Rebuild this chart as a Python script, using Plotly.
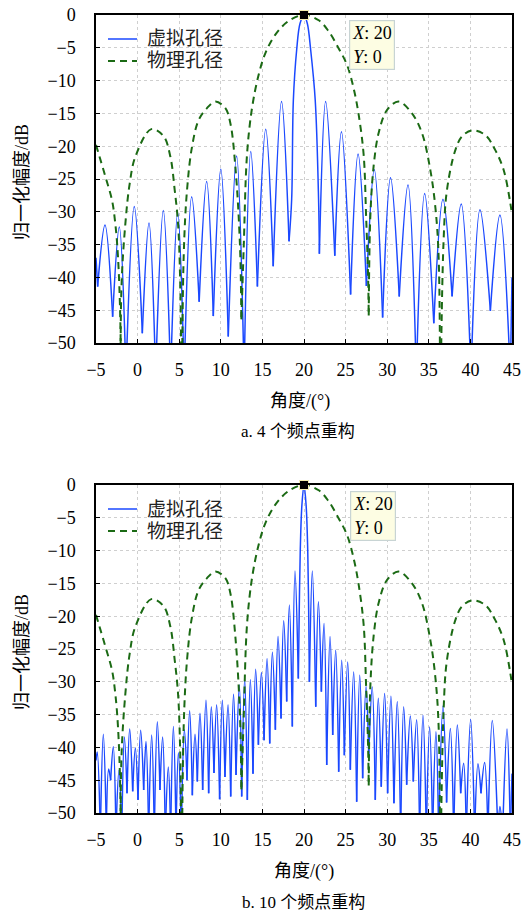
import plotly.graph_objects as go

# ---------------- data ----------------
# physical aperture (green dashed), same in both panels: angle (deg), level (dB)
phys_x = [-5, -3.88, -3.08, -2.68, -2.36, -2.07, -2.0,
          -1.95, -1.47, -0.95, -0.27, 1.65, 3.13, 3.94, 4.46, 4.86, 5.14, 5.3,
          5.54, 5.94, 6.54, 7.34, 8.34, 9.34, 10.55, 11.15, 11.75, 12.3, 12.47,
          12.75, 13.15, 13.75, 14.55, 15.36, 16.56, 18.16, 20, 21.77, 22.97, 24.17,
          25.17, 25.97, 26.57, 27.17, 27.46, 27.7, 27.78,
          27.98, 28.38, 28.97, 29.97, 31.37, 32.98, 34.18, 35.18, 35.78, 36.18, 36.35,
          36.78, 37.18, 38.19, 38.99, 40.19, 41.79, 42.99, 43.99, 44.8, 45]
phys_y = [-19.8, -24.6, -28.2, -31.8, -36.8, -47, -65,
          -41.9, -31.8, -25.7, -21.6, -17.4, -18.5, -21.6, -26.7, -31.8, -41.9, -65,
          -36.8, -26.7, -20.1, -16.0, -14.2, -13.2, -14.2, -16.5, -23.1, -35, -46.4,
          -35.6, -21.3, -14.2, -9.1, -5.8, -3.0, -0.9, 0, -0.8, -2.5, -5.1,
          -7.6, -11.2, -15.2, -21.3, -30.5, -39.6, -45.8,
          -30.5, -22.9, -18.0, -14.5, -13.2, -15.0, -18.0, -23.6, -29.2, -36.8, -65,
          -34.3, -26.7, -20.6, -18.5, -17.6, -18.3, -20.6, -23.6, -28.7, -30.5]

# virtual aperture, 4 frequency points (panel a)
virt4_x = [-5, -4.8, -3.92, -3.0, -2.2, -1.4, -0.4, 0.57, 1.37, 2.17,
           3.09, 3.97, 4.82, 5.6, 6.5, 7.4, 8.3, 9.1, 10.0, 10.9,
           11.9, 12.8, 13.6, 14.4, 15.4, 16.3, 17.3, 18.2, 18.52, 18.72,
           19.12, 19.52, 20, 20.4, 20.8, 21.35, 21.75, 21.85, 22.6, 23.7,
           24.5, 25.6, 26.5, 27.5, 28.45, 29.45, 30.4, 31.45, 32.5, 33.5,
           34.5, 35.6, 36.7, 37.8, 38.9, 40.07, 41.15, 42.4, 43.55, 44.8, 45]
virt4_y = [-37, -41.4, -32.0, -46, -32.3, -55, -29.2, -48.5, -31.7, -55,
           -29.8, -55, -30.1, -55, -27.7, -43.7, -25.4, -45.9, -23.5, -49,
           -21.5, -55, -20.8, -41.4, -17.4, -38.3, -13.2, -34.5, -28, -13,
           -5.3, -1.3, 0, -1.3, -5.3, -13, -28, -36.4, -13.2, -36.7,
           -17.8, -42.6, -21.2, -41.3, -23.6, -46.1, -24.8, -42.9, -25.9, -55,
           -27.2, -47, -28.1, -42.9, -28.8, -55, -29.7, -45.1, -30.5, -55, -40]

# virtual aperture, 10 frequency points (panel b)
virt10_x = [-5, -4.85, -4.48, -4.12, -3.76, -3.48, -3.24, -2.92, -2.6, -2.24,
            -1.9, -1.59, -1.27, -0.95, -0.59, -0.27, 0.05, 0.37, 0.73, 1.01,
            1.33, 1.69, 2.01, 2.37, 2.69, 3.01, 3.33, 3.69, 3.97, 4.30,
            4.62, 4.90, 5.26, 5.62, 5.94, 6.26, 6.58, 6.9, 7.18, 7.5,
            7.82, 8.22, 8.54, 8.86, 9.18, 9.5, 9.86, 10.18, 10.5, 10.87,
            11.19, 11.53, 11.83, 12.23, 12.51, 12.87, 13.19, 13.55, 13.87, 14.19,
            14.52, 14.88, 15.2, 15.56, 15.88, 16.2, 16.56, 16.88, 17.24, 17.56,
            17.92, 18.24, 18.6, 18.92, 19.32, 19.42, 19.55, 19.75, 20, 20.25,
            20.45, 20.57, 20.65, 21.0, 21.41, 21.73, 22.09, 22.41, 22.73, 23.13,
            23.45, 23.81, 24.17, 24.53, 24.85, 25.25, 25.57, 25.97, 26.33, 26.7,
            27.05, 27.46, 27.78, 28.2, 28.57, 28.93, 29.29, 29.69, 30.05, 30.45,
            30.81, 31.21, 31.62, 31.98, 32.34, 32.78, 33.14, 33.54, 33.9, 34.3,
            34.7, 35.1, 35.46, 35.86, 36.18, 36.7, 37.14, 37.59, 37.99, 38.43,
            38.83, 39.19, 39.51, 40.03, 40.51, 40.91, 41.27, 41.71, 42.11, 42.63,
            43.31, 43.55, 43.88, 44.4, 44.8, 45]
virt10_y = [-42, -40.7, -53, -38.0, -52, -43.3, -45.0, -39.9, -53, -43.5,
            -53, -38.4, -47.0, -37.2, -46.7, -40.1, -48.0, -37.4, -46.5, -39.1,
            -53, -38.1, -53, -36.1, -46.5, -38.4, -53, -43.0, -53, -36.8,
            -53, -40.8, -53, -37.3, -45.0, -34.4, -47.3, -38.0, -45.2, -34.8,
            -46.5, -32.8, -47.0, -33.8, -43.9, -33.5, -47.9, -32.8, -44.5, -33.5,
            -47.5, -31.9, -44.2, -30.5, -47.5, -29.5, -48.0, -29.7, -44.0, -28.1,
            -39.6, -28.6, -38.9, -26.5, -39.4, -25.5, -37.3, -23.1, -35.6, -20.7,
            -33.0, -18.3, -36.8, -13.1, -29.5, -20, -10, -3, 0, -3,
            -10, -20, -30.0, -13.1, -33.8, -17.8, -31.5, -21.1, -42.7, -23.1,
            -38.1, -25.2, -43.7, -26.7, -41.2, -27.0, -43.4, -28.5, -48.3, -29.0,
            -44.7, -30.7, -41.2, -30.8, -48.0, -32.5, -46.0, -31.8, -47.0, -32.2,
            -48.5, -33.0, -53, -33.8, -45.7, -35.2, -45.2, -35.8, -53, -35.1,
            -53, -36.9, -53, -37.6, -53, -33.7, -48.4, -37.1, -53, -36.6,
            -47.0, -42.4, -53, -35.7, -53, -42.5, -47.0, -42.3, -53, -35.9,
            -53, -49.0, -53, -37.2, -53, -44]

x_ticks = [-5, 0, 5, 10, 15, 20, 25, 30, 35, 40, 45]
y_ticks = [-50, -45, -40, -35, -30, -25, -20, -15, -10, -5, 0]
series_names = ["虚拟孔径", "物理孔径"]
captions = ["a. 4 个频点重构", "b. 10 个频点重构"]
x_title = "角度/(°)"
y_title = "归一化幅度/dB"
tip_x, tip_y = 20, 0

assert len(phys_x) == len(phys_y)
assert len(virt4_x) == len(virt4_y)
assert len(virt10_x) == len(virt10_y)

# ---------------- helpers ----------------
def lobes(xs, ys):
    """Split a curve at its nulls (local minima) so each lobe is its own spline."""
    ox, oy = [], []
    start = 0
    for i in range(1, len(xs) - 1):
        if ys[i] < ys[i - 1] and ys[i] < ys[i + 1]:
            ox += list(xs[start:i + 1]) + [None]
            oy += list(ys[start:i + 1]) + [None]
            start = i
    ox += list(xs[start:])
    oy += list(ys[start:])
    return ox, oy

W, H = 531, 913
BLUE = "#1a48ff"
GREEN = "#1b6a14"
GREEN_DASH = "7px,5px"
SERIF = "Liberation Serif, Times New Roman, serif"
CJK = "Liberation Serif, Noto Sans CJK SC, sans-serif"

def px_x(p):
    return p / W

def px_y(p):
    return 1 - p / H

panels = [
    dict(top=15, bottom=343, virt=(virt4_x, virt4_y), cap=captions[0],
         xt=(300, 401), ct=(298, 432), tip_box=(349, 20)),
    dict(top=485, bottom=813, virt=(virt10_x, virt10_y), cap=captions[1],
         xt=(304, 871), ct=(303, 902), tip_box=(350, 491)),
]
PL, PR = 96, 512

fig = go.Figure()
annotations = []
shapes = []
layout = dict(width=W, height=H, autosize=False, showlegend=False,
              margin=dict(l=0, r=0, t=0, b=0, autoexpand=False),
              paper_bgcolor="white", plot_bgcolor="white",
              font=dict(family=SERIF, size=18, color="black"))

for k, p in enumerate(panels):
    xa = "x" if k == 0 else "x2"
    ya = "y" if k == 0 else "y2"
    vx, vy = lobes(*p["virt"])
    gx, gy = lobes(phys_x, phys_y)
    fig.add_trace(go.Scatter(x=vx, y=vy, mode="lines", name=series_names[0],
                             line=dict(color=BLUE, width=1.5, shape="spline", smoothing=1),
                             connectgaps=False, xaxis=xa, yaxis=ya))
    fig.add_trace(go.Scatter(x=gx, y=gy, mode="lines", name=series_names[1],
                             line=dict(color=GREEN, width=2, dash=GREEN_DASH,
                                       shape="spline", smoothing=1),
                             connectgaps=False, xaxis=xa, yaxis=ya))
    fig.add_trace(go.Scatter(x=[tip_x], y=[tip_y], mode="markers", showlegend=False,
                             marker=dict(symbol="square", size=9, color="black",
                                         line=dict(color="#f5f0b0", width=1)),
                             cliponaxis=False, xaxis=xa, yaxis=ya))

    axis_common = dict(showline=True, mirror=True, linecolor="black", linewidth=1.5,
                       showgrid=True, gridcolor="#cfcfcf", griddash="dot", gridwidth=1,
                       zeroline=False, ticks="inside", ticklen=4, tickcolor="black",
                       automargin=False,
                       tickfont=dict(family=SERIF, size=18, color="black"))
    xkey = "xaxis" if k == 0 else "xaxis2"
    ykey = "yaxis" if k == 0 else "yaxis2"
    layout[xkey] = dict(axis_common, domain=[px_x(PL), px_x(PR)], range=[-5, 45],
                        tickvals=x_ticks, anchor=ya, ticklabelstandoff=10)
    layout[ykey] = dict(axis_common, domain=[px_y(p["bottom"]), px_y(p["top"])],
                        range=[-50, 0], tickvals=y_ticks, anchor=xa, ticklabelstandoff=15)

    # legend (key lines + labels), drawn in the upper-left corner of each panel
    t = p["top"]
    for j, (col, dash, lw) in enumerate([(BLUE, "solid", 1.5), (GREEN, GREEN_DASH, 2)]):
        yy = px_y(t + 24 + 22 * j)
        shapes.append(dict(type="line", xref="paper", yref="paper",
                           x0=px_x(108), x1=px_x(137), y0=yy, y1=yy,
                           line=dict(color=col, width=lw, dash=dash)))
        annotations.append(dict(text=series_names[j], x=px_x(145), y=yy,
                                xref="paper", yref="paper", xanchor="left", yanchor="middle",
                                showarrow=False,
                                font=dict(family=CJK, size=19, color="#222222")))

    mid = (p["top"] + p["bottom"]) / 2 + 3
    annotations += [
        dict(text=y_title, x=px_x(22), y=px_y(mid), xref="paper", yref="paper",
             xanchor="center", yanchor="middle",
             showarrow=False, textangle=-90, font=dict(family=CJK, size=18, color="black")),
        dict(text=x_title, x=px_x(p["xt"][0]), y=px_y(p["xt"][1]), xref="paper", yref="paper",
             xanchor="center", yanchor="middle",
             showarrow=False, font=dict(family=CJK, size=18, color="black")),
        dict(text=p["cap"], x=px_x(p["ct"][0]), y=px_y(p["ct"][1]), xref="paper", yref="paper",
             xanchor="center", yanchor="middle",
             showarrow=False, font=dict(family=CJK, size=17, color="black")),
        dict(text=f"<i>X</i>: {tip_x}<br><i>Y</i>: {tip_y}", align="left",
             x=px_x(p["tip_box"][0]), y=px_y(p["tip_box"][1]), xref="paper", yref="paper",
             xanchor="left", yanchor="top", showarrow=False,
             bgcolor="#fdfde3", bordercolor="#c8d4d4", borderwidth=1.2, borderpad=2,
             font=dict(family=SERIF, size=18, color="black")),
    ]

layout["annotations"] = annotations
layout["shapes"] = shapes
fig.update_layout(**layout)
fig.write_html("out.html")
